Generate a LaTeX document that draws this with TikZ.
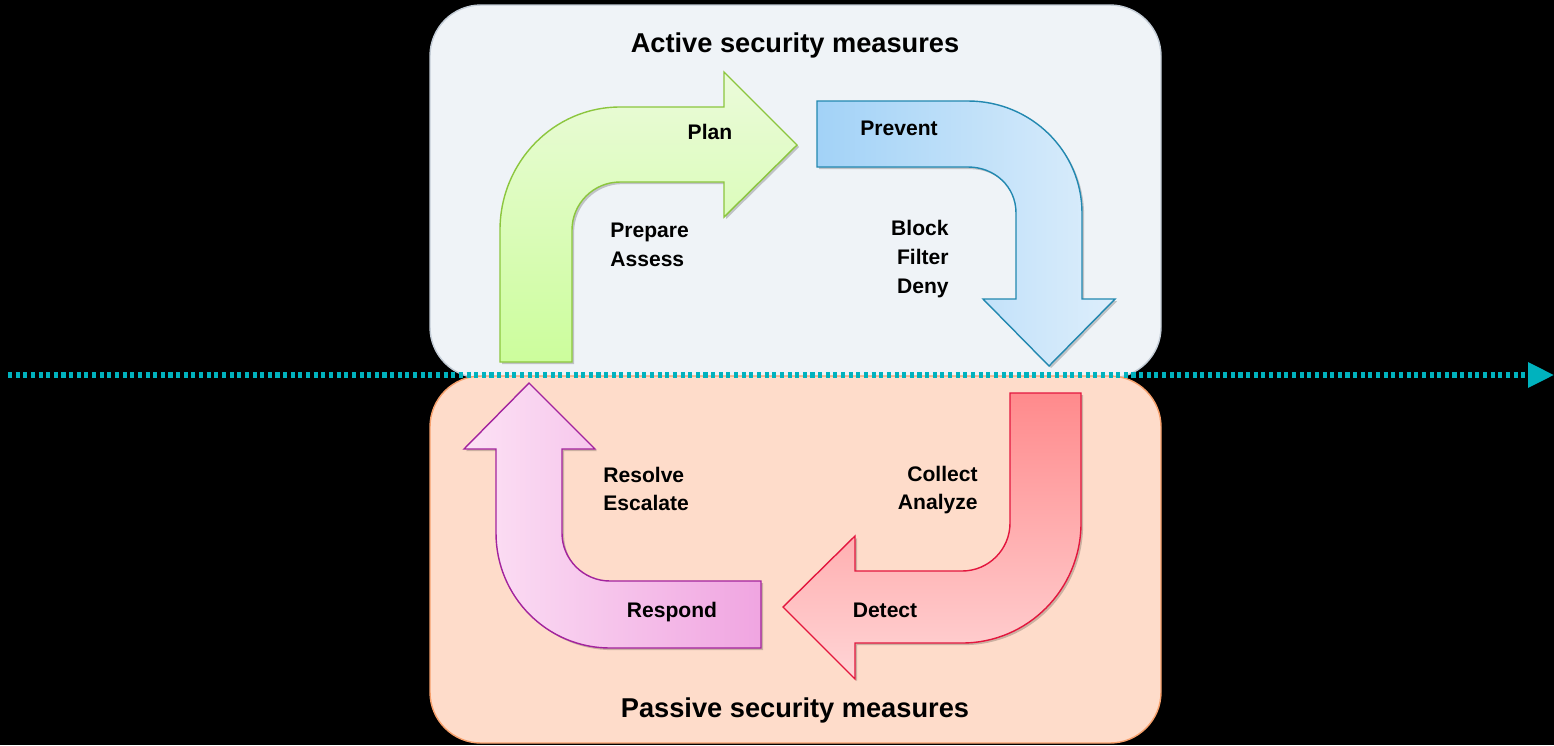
\documentclass[tikz,border=0pt]{standalone}
\usepackage{fontspec}
\setmainfont{Liberation Sans}
\usetikzlibrary{arrows.meta,shadows}
\definecolor{bgtop}{HTML}{EFF3F7}
\definecolor{bdtop}{HTML}{C3CCD6}
\definecolor{bgbot}{HTML}{FEDCCA}
\definecolor{bdbot}{HTML}{F6A06C}
\definecolor{lineteal}{HTML}{00B2BE}
\definecolor{gTop}{HTML}{EBFBDA}
\definecolor{gBot}{HTML}{CCFD9C}
\definecolor{gBd}{HTML}{8CC63E}
\definecolor{bL}{HTML}{A2D2F7}
\definecolor{bR}{HTML}{DDEEFB}
\definecolor{bBd}{HTML}{2288B0}
\definecolor{rTop}{HTML}{FF8A8C}
\definecolor{rBot}{HTML}{FFD5D6}
\definecolor{rBd}{HTML}{E3173E}
\definecolor{pL}{HTML}{FCE2F5}
\definecolor{pR}{HTML}{F0A5E1}
\definecolor{pBd}{HTML}{A3239D}
\tikzset{
  title/.style={font=\bfseries\fontsize{15.5}{18}\selectfont, inner sep=0pt},
  lbl/.style={font=\bfseries\fontsize{12}{16.4}\selectfont, inner sep=0pt},
  arrowshape/.style={line width=0.8pt, line join=miter,
     drop shadow={shadow xshift=1.2pt, shadow yshift=-1.2pt, opacity=0.2, fill=black}},
}
\begin{document}
\begin{tikzpicture}[x=0.02cm,y=-0.02cm]
\fill[black] (0,0) rectangle (1554,745);
\useasboundingbox (0,0) rectangle (1554,745);
% boxes
\draw[fill=bgtop, draw=bdtop, line width=0.8pt, rounded corners=29pt] (430,5) rectangle (1161,378);
\draw[fill=bgbot, draw=bdbot, line width=0.8pt, rounded corners=29pt] (430,376) rectangle (1161,743);
% timeline
\coordinate (lstart) at (8,375);
\coordinate (lend) at (1554,375);
\draw[lineteal, line width=2.9pt, dash pattern=on 2.3pt off 2.05pt,
  -{Triangle[length=14.7pt,width=13.8pt]}] (lstart) -- (lend);
% green arrow (Plan)
\path[arrowshape, draw=gBd, top color=gTop, bottom color=gBot]
 (500,362) -- (500,230) .. controls (500,162.1) and (553.7,107) .. (620,107)
 -- (724,107) -- (724,72) -- (797,145) -- (724,217) -- (724,182) -- (620,182)
 .. controls (593.5,182) and (572,203.5) .. (572,230) -- (572,362) -- cycle;
% blue arrow (Prevent)
\path[arrowshape, draw=bBd, left color=bL, right color=bR]
 (817,101) -- (968,101) .. controls (1031,101) and (1082,151.1) .. (1082,213)
 -- (1082,299) -- (1115,299) -- (1049,366) -- (983,299) -- (1016,299) -- (1016,213)
 .. controls (1016,186.5) and (994.5,167) .. (968,167) -- (817,167) -- cycle;
% red arrow (Detect)
\path[arrowshape, draw=rBd, top color=rTop, bottom color=rBot]
 (1010,393) -- (1081,393) -- (1081,523) .. controls (1081,589.3) and (1027.7,643) .. (962,643)
 -- (855,643) -- (855,679) -- (783,607) -- (855,536) -- (855,571) -- (962,571)
 .. controls (988.5,571) and (1010,549.5) .. (1010,523) -- cycle;
% purple arrow (Respond)
\path[arrowshape, draw=pBd, left color=pL, right color=pR]
 (761,581) -- (761,648) -- (610,648) .. controls (547,648) and (496,596.5) .. (496,533)
 -- (496,449) -- (464,449) -- (529,383) -- (595,449) -- (562,449) -- (562,533)
 .. controls (562,559.5) and (583.5,581) .. (610,581) -- cycle;
% texts
\node[title] (t1) at (795,45) {Active security measures};
\node[title] (t2) at (795,710) {Passive security measures};
\node[lbl] (plan) at (710,132) {Plan};
\node[lbl] (prev) at (899,128) {Prevent};
\node[lbl] (resp) at (672,612) {Respond};
\node[lbl] (det) at (885,610) {Detect};
\node[lbl, anchor=west, align=left] (pa) at (610,245) {Prepare\\Assess};
\node[lbl, anchor=east, align=right] (bfd) at (949,259) {Block\\Filter\\Deny};
\node[lbl, anchor=west, align=left] (re) at (603,489) {Resolve\\Escalate};
\node[lbl, anchor=east, align=right] (ca) at (978,490) {Collect\\Analyze};
\end{tikzpicture}
\end{document}
